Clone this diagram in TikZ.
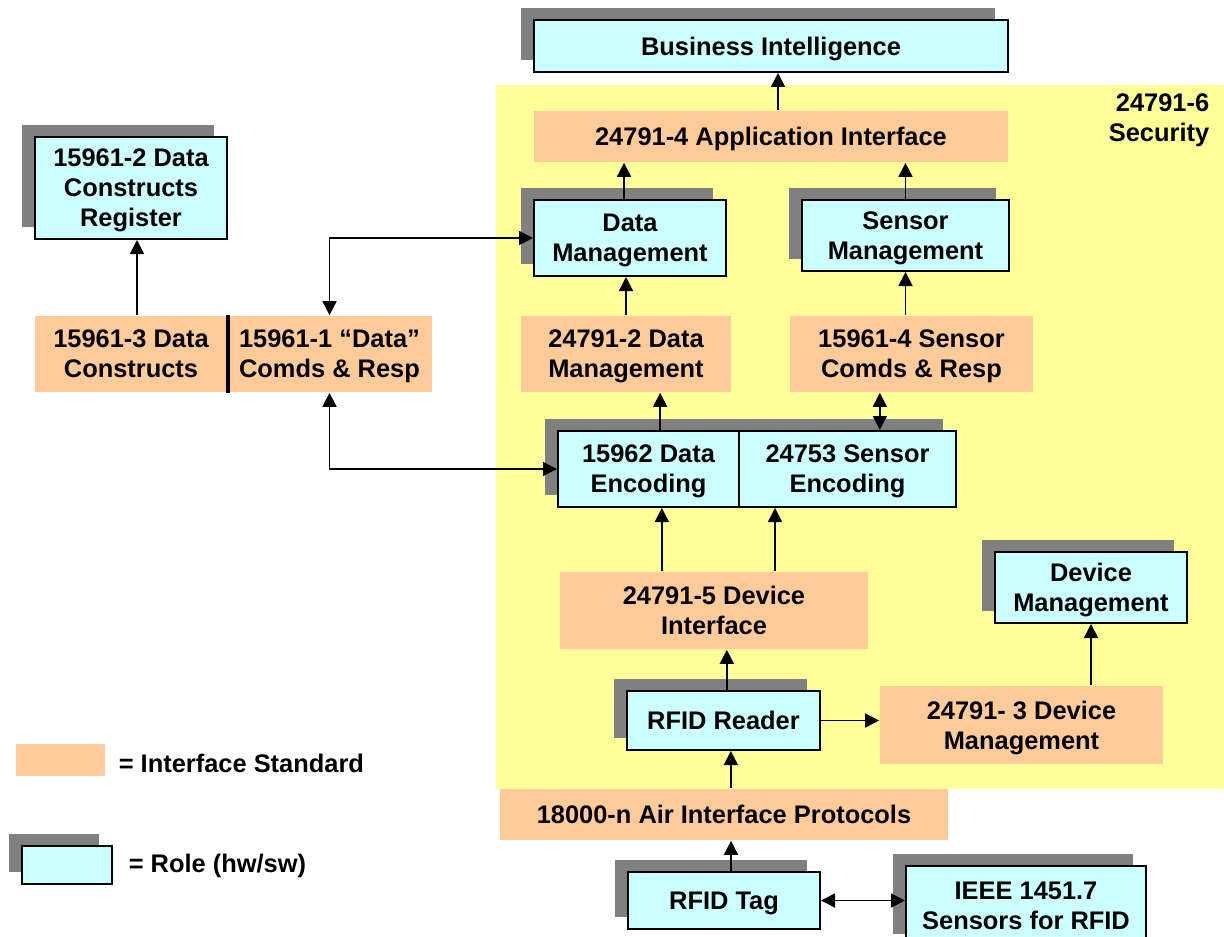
\documentclass[tikz,border=0pt]{standalone}
\usepackage{fontspec}
\setmainfont{Liberation Sans}
\usetikzlibrary{arrows.meta,shadows}

\definecolor{rolecyan}{RGB}{204,255,255}
\definecolor{stdorange}{RGB}{255,204,153}
\definecolor{secyellow}{RGB}{255,255,153}
\definecolor{shadowgray}{RGB}{128,128,128}

\tikzset{
    wh/.style 2 args={minimum width=#1*0.3mm, minimum height=#2*0.3mm},
    role/.style={draw, line width=0.6mm, fill=rolecyan, inner sep=0pt, align=center, text depth=0pt,
        general shadow={fill=shadowgray, shadow xshift=-3.9mm, shadow yshift=3.6mm}},
    std/.style={fill=stdorange, inner sep=0pt, align=center, text depth=0pt},
}

\begin{document}
\begin{tikzpicture}[x=0.3mm, y=-0.3mm, line width=0.5mm,
    font=\fontsize{21.7}{25.6}\selectfont\bfseries,
    >={Triangle[length=4.2mm, width=4.2mm]}]
    \useasboundingbox (0,0) rectangle (1224,936);

    % Security area
    \fill[secyellow] (496,85) rectangle (1224,789);
    \node[anchor=east, align=right, inner sep=0pt] (sec) at (1210,120) {24791-6\\Security};

    % Upper layers
    \node[role, wh={474}{52}] (bi) at (771,46) {Business Intelligence};
    \node[std, wh={474}{51}] (app) at (771,136.5) {24791-4 Application Interface};
    \node[role, wh={192}{76}] (dm) at (630,238) {Data\\Management};
    \node[role, wh={207}{71}] (sm) at (905.5,235.5) {Sensor\\Management};
    \node[std, wh={210}{76}] (dmi) at (626,354) {24791-2 Data\\Management};
    \node[std, wh={243}{76}] (smi) at (911.5,354) {15961-4 Sensor\\Comds \& Resp};

    % Encoding pair, right half first so the left one covers its shadow
    \node[role, wh={217}{76}] (senc) at (847.5,469) {24753 Sensor\\Encoding};
    \node[role, wh={181}{76}] (denc) at (648.5,469) {15962 Data\\Encoding};

    % Device side
    \node[std, wh={308}{77}] (devi) at (714,610.5) {24791-5 Device\\Interface};
    \node[role, wh={192}{71}] (devm) at (1091,587.5) {Device\\Management};
    \node[role, wh={193}{59}] (reader) at (723.5,720.5) {RFID Reader};
    \node[std, wh={283}{78}] (devmi) at (1021.5,725) {24791- 3 Device\\Management};
    \node[std, wh={448}{51}] (air) at (724,814.5) {18000-n Air Interface Protocols};
    \node[role, wh={192}{57}] (tag) at (724,900.5) {RFID Tag};
    \node[role, wh={240}{80}] (ieee) at (1026,906) {IEEE 1451.7\\Sensors for RFID};

    % Data constructs
    \node[role, wh={192}{102}] (reg) at (131,188) {15961-2 Data\\Constructs\\Register};
    \node[std, wh={192}{76}] (cons) at (131,354) {15961-3 Data\\Constructs};
    \node[std, wh={205}{76}] (cmds) at (329.5,354) {15961-1 “Data”\\Comds \& Resp};
    \draw[line width=1.2mm] (cons.north east) -- (cons.south east);

    % Connectors
    \draw[->] ([xshift=2.1mm]app.north) -- ([xshift=2.1mm]bi.south);
    \draw[->] ([xshift=-1.8mm]dm.north) -- ([xshift=-1.8mm]dm.north |- app.south);
    \draw[->] (sm.north) -- (sm.north |- app.south);
    \draw[->] (dmi.north) -- (dmi.north |- dm.south);
    \draw[->] (sm.south |- smi.north) -- (sm.south);
    \draw[->] ([xshift=3.5mm]denc.north) -- ([xshift=3.5mm]denc.north |- dmi.south);
    \draw[<->] ([xshift=-9.5mm]smi.south) -- ([xshift=-9.5mm]smi.south |- senc.north);
    \draw[->] ([xshift=4mm]denc.south |- devi.north) -- ([xshift=4mm]denc.south);
    \draw[->] ([xshift=18.3mm]devi.north) -- ([xshift=18.3mm]devi.north |- senc.south);
    \draw[->] ([xshift=1mm]reader.north) -- ([xshift=1mm]reader.north |- devi.south);
    \draw[->] (reader.east) -- (reader.east -| devmi.west);
    \draw[->] (devm.south |- devmi.north) -- (devm.south);
    \draw[->] ([xshift=2.2mm]reader.south |- air.north) -- ([xshift=2.2mm]reader.south);
    \draw[->] ([xshift=2.1mm]tag.north) -- ([xshift=2.1mm]tag.north |- air.south);
    \draw[<->] (tag.east) -- (tag.east -| ieee.west);
    \draw[->] ([xshift=1.8mm]cons.north) -- ([xshift=1.8mm]cons.north |- reg.south);
    \draw[<->] (cmds.north) |- (dm.west);
    \draw[<->] (cmds.south) |- (denc.west);

    % Key
    \node[std, wh={89}{32}] (keystd) at (60.5,760) {};
    \node[anchor=west, inner sep=0pt] (keystdtext) at (118,763) {= Interface Standard};
    \node[role, wh={90}{38}] (keyrole) at (67,865) {};
    \node[anchor=west, inner sep=0pt] (keyroletext) at (128,866) {= Role (hw/sw)};
\end{tikzpicture}
\end{document}
